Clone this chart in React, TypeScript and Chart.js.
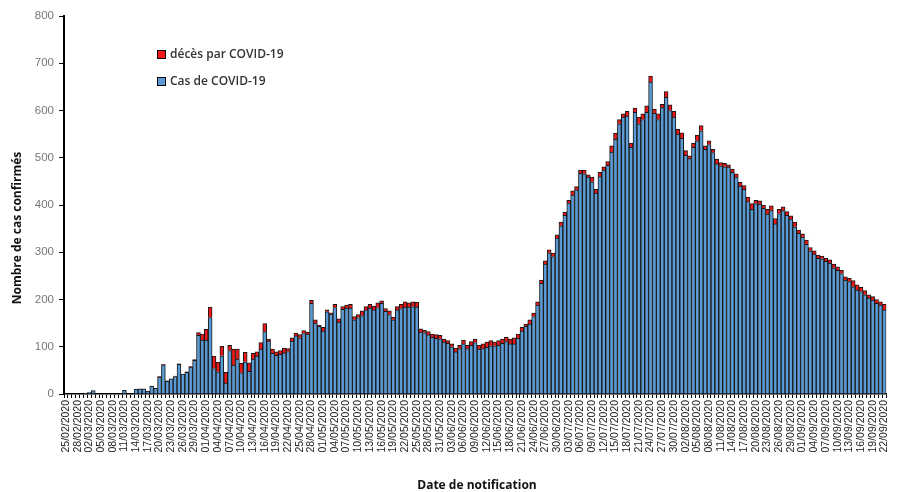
import React, { useEffect, useRef } from 'react';
import { Chart, registerables } from 'chart.js';

Chart.register(...registerables);

// Daily notification dates: 25/02/2020 .. 22/09/2020 (211 days)
const FIRST_DAY = { year: 2020, month: 1, day: 25 };
const DAY_COUNT = 211;
function buildDates(): string[] {
  const out: string[] = [];
  for (let i = 0; i < DAY_COUNT; i++) {
    const d = new Date(Date.UTC(FIRST_DAY.year, FIRST_DAY.month, FIRST_DAY.day + i));
    const dd = String(d.getUTCDate()).padStart(2, '0');
    const mm = String(d.getUTCMonth() + 1).padStart(2, '0');
    out.push(`${dd}/${mm}/${d.getUTCFullYear()}`);
  }
  return out;
}
const dates = buildDates();

// Confirmed cases (blue)
const cases = [
  0, 0, 0, 0, 0,
  2, 3, 7, 0, 0,
  0, 0, 0, 0, 0,
  8, 0, 0, 10, 11,
  11, 6, 17, 12, 36,
  62, 27, 32, 37, 63,
  42, 46, 57, 71, 124,
  114, 114, 162, 54, 47,
  81, 23, 92, 61, 74,
  45, 68, 48, 74, 80,
  95, 132, 112, 86, 82,
  84, 87, 90, 112, 123,
  119, 128, 127, 192, 150,
  143, 133, 174, 169, 183,
  152, 179, 182, 182, 157,
  162, 166, 178, 182, 178,
  183, 192, 175, 168, 157,
  178, 181, 184, 184, 185,
  184, 131, 130, 125, 120,
  118, 117, 110, 107, 100,
  89, 96, 106, 96, 103,
  109, 95, 96, 99, 102,
  102, 103, 107, 111, 106,
  106, 118, 133, 143, 148,
  164, 188, 234, 275, 299,
  291, 330, 356, 378, 404,
  421, 432, 467, 466, 459,
  449, 425, 460, 474, 484,
  512, 539, 572, 586, 588,
  522, 596, 572, 581, 596,
  660, 594, 581, 606, 628,
  600, 586, 550, 541, 505,
  498, 522, 536, 557, 518,
  528, 511, 487, 483, 481,
  480, 469, 459, 440, 433,
  407, 391, 403, 402, 393,
  381, 388, 360, 382, 388,
  378, 370, 354, 340, 332,
  317, 303, 296, 287, 286,
  281, 277, 267, 262, 255,
  241, 238, 227, 220, 217,
  210, 203, 199, 192, 188,
  178,
];

// Deaths (red, stacked on top)
const deaths = [
  0, 0, 0, 0, 0,
  0, 0, 0, 0, 0,
  0, 0, 0, 0, 0,
  0, 0, 0, 0, 0,
  0, 0, 0, 0, 1,
  1, 1, 0, 1, 1,
  0, 1, 1, 2, 6,
  13, 23, 22, 26, 20,
  20, 23, 11, 34, 21,
  20, 20, 18, 12, 9,
  14, 17, 4, 9, 7,
  8, 10, 6, 7, 6,
  7, 6, 4, 6, 7,
  3, 8, 4, 3, 7,
  7, 6, 6, 8, 7,
  6, 10, 7, 8, 8,
  10, 5, 6, 8, 6,
  7, 9, 11, 9, 10,
  10, 7, 5, 7, 7,
  8, 7, 6, 6, 6,
  8, 7, 8, 7, 8,
  7, 8, 10, 11, 11,
  8, 10, 9, 9, 10,
  13, 9, 8, 5, 9,
  7, 7, 7, 7, 6,
  7, 7, 8, 7, 6,
  9, 7, 7, 8, 5,
  10, 8, 9, 7, 8,
  13, 13, 9, 7, 10,
  9, 9, 14, 12, 14,
  13, 9, 12, 7, 12,
  12, 12, 10, 12, 10,
  6, 9, 12, 11, 7,
  8, 7, 10, 7, 7,
  5, 7, 7, 8, 8,
  10, 12, 7, 7, 7,
  10, 10, 11, 9, 8,
  8, 7, 10, 7, 7,
  9, 7, 7, 7, 6,
  6, 7, 8, 7, 7,
  7, 7, 13, 11, 9,
  9, 7, 7, 8, 7,
  12,
];

const seriesLabels = ['Cas de COVID-19', 'décès par COVID-19'];
const legendOrder = [1, 0];
const xTitle = 'Date de notification';
const yTitle = 'Nombre de cas confirmés';
const LABEL_EVERY = 3;

const BLUE = '#5B9BD5';
const RED = '#F01818';
const EDGE = '#161616';

const overlayPlugin = {
  id: 'overlayText',
  afterDraw(chart: any) {
    const ctx = chart.ctx as CanvasRenderingContext2D;
    ctx.save();
    const colors = [BLUE, RED];
    legendOrder.forEach((k, row) => {
      const cy = 54.5 + row * 27;
      ctx.fillStyle = colors[k];
      ctx.fillRect(157, cy - 4.5, 9, 9);
      ctx.strokeStyle = '#000';
      ctx.lineWidth = 1;
      ctx.strokeRect(157.5, cy - 4, 8, 8);
      ctx.fillStyle = '#333';
      ctx.font = '600 12px "Open Sans"';
      ctx.textAlign = 'left';
      ctx.textBaseline = 'middle';
      ctx.fillText(seriesLabels[k], 170, cy);
    });
    // x title
    ctx.fillStyle = '#111';
    ctx.font = 'bold 12px "Open Sans"';
    ctx.textAlign = 'center';
    ctx.textBaseline = 'middle';
    ctx.fillText(xTitle, 477, 486);
    // y title
    ctx.translate(18, 228);
    ctx.rotate(-Math.PI / 2);
    ctx.fillText(yTitle, 0, 0);
    ctx.restore();
  },
};

export default function App() {
  const canvasRef = useRef<HTMLCanvasElement | null>(null);

  useEffect(() => {
    document.body.style.margin = '0';
    const canvas = canvasRef.current;
    if (!canvas) return;
    const chart = new Chart(canvas, {
      type: 'bar',
      data: {
        labels: dates,
        datasets: [
          {
            label: seriesLabels[0],
            data: cases,
            backgroundColor: BLUE,
            borderColor: EDGE,
            borderWidth: 1,
            barPercentage: 1,
            categoryPercentage: 1,
          },
          {
            label: seriesLabels[1],
            data: deaths,
            backgroundColor: RED,
            borderColor: EDGE,
            borderWidth: 1,
            barPercentage: 1,
            categoryPercentage: 1,
          },
        ],
      },
      options: {
        responsive: false,
        animation: false,
        devicePixelRatio: 1,
        layout: { padding: { top: 16, right: 6, left: 0, bottom: 0 } },
        plugins: {
          legend: { display: false },
          tooltip: { enabled: false },
        },
        scales: {
          x: {
            stacked: true,
            offset: true,
            grid: {
              display: true,
              drawOnChartArea: false,
              tickLength: 4,
              color: '#000',
              offset: true,
            },
            border: { color: '#000', width: 1.5 },
            ticks: {
              autoSkip: false,
              minRotation: 90,
              maxRotation: 90,
              padding: 2,
              color: '#222',
              font: { family: 'Liberation Sans', size: 10.5 },
              callback: (_v: any, i: number) => (i % LABEL_EVERY === 0 ? dates[i] : ''),
            },
            afterFit: (s: any) => {
              s.height = 98;
            },
          },
          y: {
            stacked: true,
            min: 0,
            max: 800,
            ticks: {
              stepSize: 100,
              color: '#777',
              padding: 5,
              font: { family: 'Liberation Sans', size: 11.5 },
            },
            grid: {
              drawOnChartArea: false,
              tickLength: 5,
              color: '#000',
            },
            border: { color: '#000', width: 2 },
            afterFit: (s: any) => {
              s.width = 64;
            },
          },
        },
      },
      plugins: [overlayPlugin],
    });
    return () => chart.destroy();
  }, []);

  return (
    <div style={{ position: 'absolute', left: 0, top: 0, width: 899, height: 492, background: '#fff' }}>
      <canvas ref={canvasRef} width={899} height={492} />
    </div>
  );
}
